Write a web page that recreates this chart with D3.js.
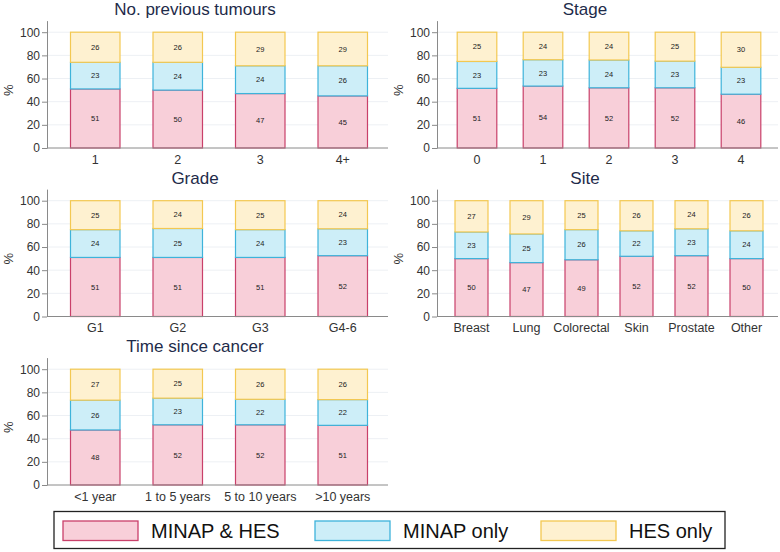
<!DOCTYPE html>
<html><head><meta charset="utf-8">
<script src="https://cdn.jsdelivr.net/npm/d3@7"></script>
<style>
body{margin:0;background:#fff;}
svg{display:block;font-family:"Liberation Sans",Arial,sans-serif;}
</style></head>
<body><svg id="c" width="780" height="552"></svg>
<script>
const seriesNames = ["MINAP & HES", "MINAP only", "HES only"];

const tumoursCats = ["1", "2", "3", "4+"];
const tumoursBoth = [51, 50, 47, 45];
const tumoursMinap = [23, 24, 24, 26];
const tumoursHes = [26, 26, 29, 29];

const stageCats = ["0", "1", "2", "3", "4"];
const stageBoth = [51, 54, 52, 52, 46];
const stageMinap = [23, 23, 24, 23, 23];
const stageHes = [25, 24, 24, 25, 30];

const gradeCats = ["G1", "G2", "G3", "G4-6"];
const gradeBoth = [51, 51, 51, 52];
const gradeMinap = [24, 25, 24, 23];
const gradeHes = [25, 24, 25, 24];

const siteCats = ["Breast", "Lung", "Colorectal", "Skin", "Prostate", "Other"];
const siteBoth = [50, 47, 49, 52, 52, 50];
const siteMinap = [23, 25, 26, 22, 23, 24];
const siteHes = [27, 29, 25, 26, 24, 26];

const timeCats = ["<1 year", "1 to 5 years", "5 to 10 years", ">10 years"];
const timeBoth = [48, 52, 52, 51];
const timeMinap = [26, 23, 22, 22];
const timeHes = [27, 25, 26, 26];

const yTicks = [0, 20, 40, 60, 80, 100];

const panels = [
  {title: "No. previous tumours", cats: tumoursCats, vals: [tumoursBoth, tumoursMinap, tumoursHes], col: 0, row: 0},
  {title: "Stage", cats: stageCats, vals: [stageBoth, stageMinap, stageHes], col: 1, row: 0},
  {title: "Grade", cats: gradeCats, vals: [gradeBoth, gradeMinap, gradeHes], col: 0, row: 1},
  {title: "Site", cats: siteCats, vals: [siteBoth, siteMinap, siteHes], col: 1, row: 1},
  {title: "Time since cancer", cats: timeCats, vals: [timeBoth, timeMinap, timeHes], col: 0, row: 2}
];

const fills = ["#f8cfd9", "#cdeef8", "#fef1d0"];
const strokes = ["#c9406a", "#3eb3da", "#f3c851"];

const svg = d3.select("#c");
const colX = [47, 437];
const colCenter = [195, 585];
const rowZero = [148, 316.5, 485];
const pxPer100 = 115.8;
const axisGray = "#8a8a8a";

panels.forEach(p => {
  const x0 = colX[p.col], yz = rowZero[p.row];
  const g = svg.append("g");
  const y = d3.scaleLinear().domain([0, 110]).range([yz, yz - pxPer100 * 1.1]);
  const x = d3.scaleBand().domain(p.cats).range([x0 + 7, x0 + 337]).paddingInner(0.4).paddingOuter(0.2);

  // gridlines
  g.append("g").selectAll("line").data(yTicks.slice(1)).join("line")
    .attr("x1", x0).attr("x2", x0 + 341)
    .attr("y1", d => y(d)).attr("y2", d => y(d))
    .attr("stroke", "#edf0f4").attr("stroke-width", 1);

  // stack
  const rows = p.cats.map((c, i) => {
    const o = {cat: c};
    seriesNames.forEach((s, k) => o[s] = p.vals[k][i]);
    return o;
  });
  const stacked = d3.stack().keys(seriesNames).offset(d3.stackOffsetExpand)(rows);

  stacked.forEach((layer, k) => {
    const lg = g.append("g");
    lg.selectAll("rect").data(layer).join("rect")
      .attr("x", d => x(d.data.cat))
      .attr("width", x.bandwidth())
      .attr("y", d => y(d[1] * 100))
      .attr("height", d => y(d[0] * 100) - y(d[1] * 100))
      .attr("fill", fills[k]).attr("stroke", strokes[k]).attr("stroke-width", 1.2);
    lg.selectAll("text").data(layer).join("text")
      .attr("x", d => x(d.data.cat) + x.bandwidth() / 2)
      .attr("y", d => y((d[0] + d[1]) * 50))
      .attr("dy", "0.35em")
      .attr("text-anchor", "middle")
      .attr("font-size", "7.5px").attr("fill", "#222")
      .text(d => d.data[layer.key]);
  });

  // y axis
  const ya = g.append("g").attr("transform", `translate(${x0},0)`)
    .call(d3.axisLeft(y).tickValues(yTicks).tickSize(5).tickSizeOuter(0).tickPadding(2));
  ya.select(".domain").attr("stroke", axisGray);
  ya.selectAll(".tick line").attr("stroke", axisGray);
  ya.selectAll(".tick text").attr("font-size", "12px").attr("fill", "#333")
    .attr("font-family", "'Liberation Sans',Arial,sans-serif");

  // x axis
  const xa = g.append("g").attr("transform", `translate(0,${yz})`)
    .call(d3.axisBottom(x).tickSize(0).tickPadding(7));
  xa.select(".domain").remove();
  xa.selectAll(".tick text").attr("font-size", "12.5px").attr("fill", "#333")
    .attr("font-family", "'Liberation Sans',Arial,sans-serif");
  g.append("line").attr("x1", x0).attr("x2", x0 + 341).attr("y1", yz).attr("y2", yz)
    .attr("stroke", axisGray).attr("stroke-width", 1);

  // y label
  g.append("text")
    .attr("transform", `translate(${x0 - 39},${y(50)}) rotate(-90)`)
    .attr("text-anchor", "middle").attr("dy", "0.35em")
    .attr("font-size", "13px").attr("fill", "#333").text("%");

  // title
  g.append("text").attr("x", colCenter[p.col]).attr("y", yz - 133)
    .attr("text-anchor", "middle").attr("font-size", "17px").attr("fill", "#1e2b4a")
    .text(p.title);
});

// legend
const lg = svg.append("g");
lg.append("rect").attr("x", 54).attr("y", 511.5).attr("width", 671).attr("height", 37)
  .attr("fill", "#fff").attr("stroke", "#222").attr("stroke-width", 1.3);
const legX = [63, 315, 541];
seriesNames.forEach((s, k) => {
  lg.append("rect").attr("x", legX[k]).attr("y", 521).attr("width", 75).attr("height", 19.5)
    .attr("fill", fills[k]).attr("stroke", strokes[k]).attr("stroke-width", 1.3);
  lg.append("text").attr("x", legX[k] + 88).attr("y", 538)
    .attr("font-size", "20px").attr("fill", "#111").text(s);
});
</script></body></html>
